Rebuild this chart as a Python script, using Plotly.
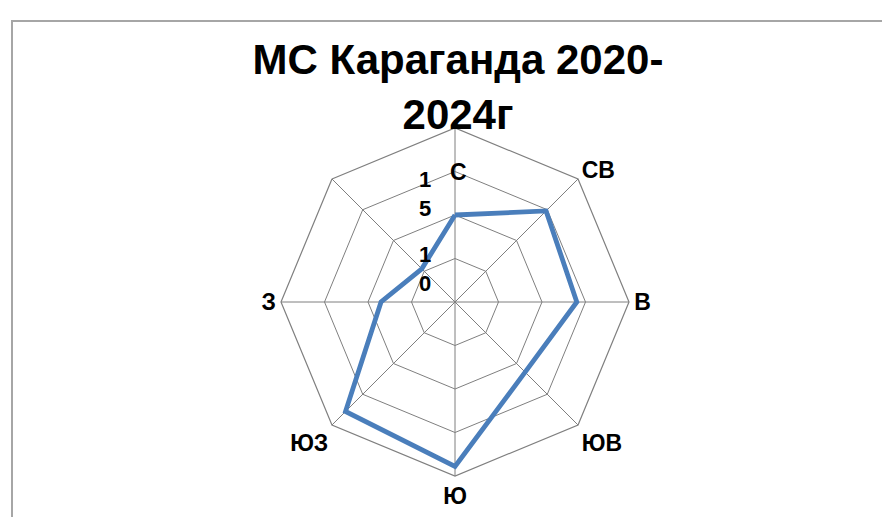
import plotly.graph_objects as go

# ---- data ----
directions = ["С", "СВ", "В", "ЮВ", "Ю", "ЮЗ", "З", "СЗ"]
direction_labels = ["", "СВ", "В", "ЮВ", "Ю", "ЮЗ", "З", ""]
frequency = [10.0, 14.8, 14.0, 11.4, 18.9, 17.8, 8.5, 5.4]
radial_ticks = [5, 10, 15, 20]
value_labels = ["1<br>5", "1<br>0"]
title_text = "МС Караганда 2020-<br>2024г"

W, H = 890, 517
cx, cy, R = 447, 294, 174
FONT = "Liberation Sans"
GRID = "#7f7f7f"

fig = go.Figure()
fig.add_trace(go.Scatterpolar(
    r=frequency + frequency[:1],
    theta=directions + directions[:1],
    mode="lines",
    line=dict(color="#4a7ebb", width=4.8),
    hoverinfo="skip",
    showlegend=False,
))

fig.update_layout(
    width=W, height=H,
    margin=dict(l=0, r=0, t=0, b=0),
    paper_bgcolor="white",
    plot_bgcolor="white",
    font=dict(family=FONT, color="black"),
    title=dict(
        text=title_text,
        x=450 / W, xanchor="center", xref="paper",
        y=1 - 66 / H, yanchor="top", yref="paper",
        font=dict(family=FONT, size=42, color="black", weight="bold"),
    ),
    polar=dict(
        domain=dict(x=[(cx - R) / W, (cx + R) / W],
                    y=[(H - cy - R) / H, (H - cy + R) / H]),
        gridshape="linear",
        bgcolor="white",
        angularaxis=dict(
            type="category",
            rotation=90, direction="clockwise",
            tickmode="array", tickvals=directions, ticktext=direction_labels,
            showline=True, linecolor=GRID, linewidth=1.2,
            showgrid=True, gridcolor=GRID, gridwidth=1.2,
            ticks="",
            tickfont=dict(family=FONT, size=23, color="black", weight="bold"),
        ),
        radialaxis=dict(
            range=[0, 20], tickmode="array", tickvals=radial_ticks,
            showline=False, showticklabels=False, ticks="",
            showgrid=True, gridcolor=GRID, gridwidth=1.2,
            angle=90,
        ),
    ),
    shapes=[dict(type="rect", xref="paper", yref="paper",
                 x0=4 / W, x1=1.02, y0=-0.02, y1=1 - 13 / H,
                 line=dict(color="#a6a6a6", width=2))],
    annotations=[
        dict(text="С", x=450 / W, y=1 - 164 / H, xref="paper", yref="paper",
             showarrow=False, xanchor="center", yanchor="middle",
             font=dict(family=FONT, size=23, color="black", weight="bold")),
        dict(text=value_labels[0], x=417 / W, y=1 - 186 / H, xref="paper", yref="paper",
             showarrow=False, xanchor="center", yanchor="middle",
             font=dict(family=FONT, size=22, color="black", weight="bold")),
        dict(text=value_labels[1], x=417 / W, y=1 - 261 / H, xref="paper", yref="paper",
             showarrow=False, xanchor="center", yanchor="middle",
             font=dict(family=FONT, size=22, color="black", weight="bold")),
    ],
)

fig.write_html("out.html")
